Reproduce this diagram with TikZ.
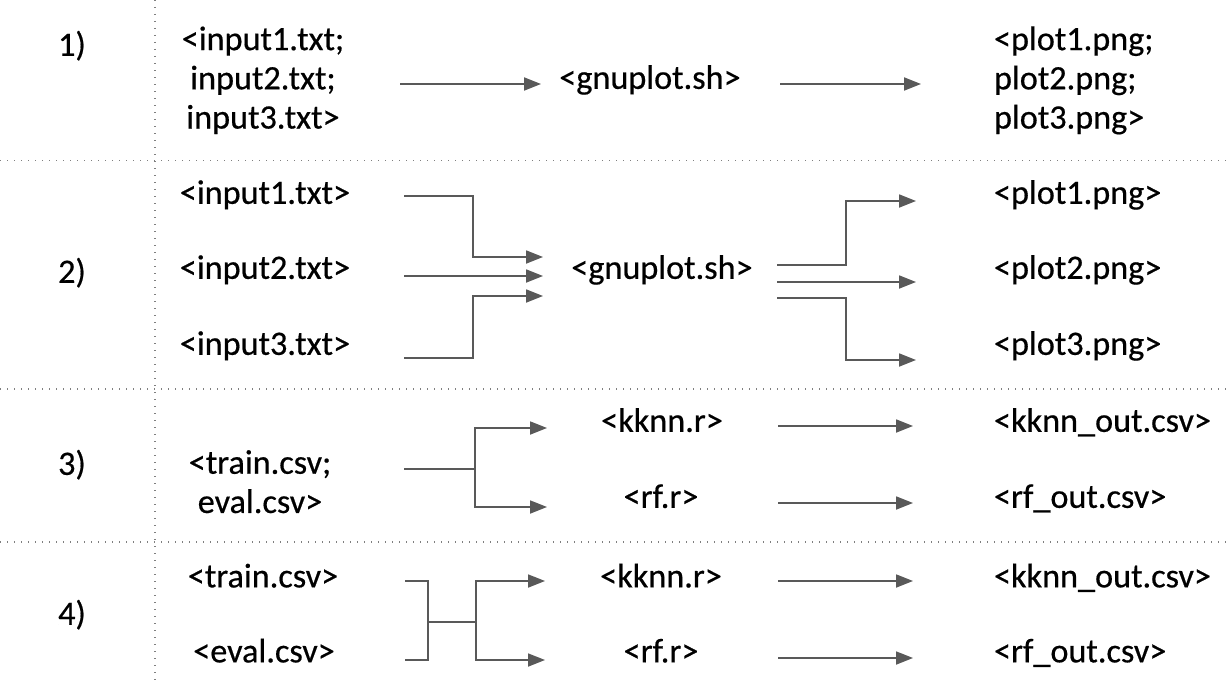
\documentclass[tikz,border=0pt]{standalone}
\usepackage{fontspec}
\setmainfont{Carlito}[FakeBold=0.5]
\usetikzlibrary{arrows.meta}
\definecolor{linegray}{HTML}{595959}
\definecolor{dotgray}{HTML}{7F7F7F}
\tikzset{
  txt/.style={inner sep=0pt, outer sep=0pt, text=black, font=\fontsize{34.2}{39.2}\selectfont},
  conn/.style={draw=linegray, line width=1.8pt},
  arr/.style={conn, -{Triangle[length=17pt,width=13pt]}},
  sep/.style={draw=dotgray, line width=1.4pt, dash pattern=on 1.4pt off 5.6pt}
}
\begin{document}
\begin{tikzpicture}[x=1pt,y=-1pt]
\useasboundingbox (0,0) rectangle (1230,685);
% separators
\coordinate (vt) at (155,0); \coordinate (vb) at (155,685);
\coordinate (h1l) at (0,160.5); \coordinate (h1r) at (1230,160.5);
\coordinate (h2l) at (0,389); \coordinate (h2r) at (1230,389);
\coordinate (h3l) at (0,542); \coordinate (h3r) at (1230,542);
\draw[sep] (vt) -- (vb);
\draw[sep] (h1l) -- (h1r);
\draw[sep] (h2l) -- (h2r);
\draw[sep] (h3l) -- (h3r);

% row labels
\node[txt] (r1) at (72,48) {\strut 1)};
\node[txt] (r2) at (72,275) {\strut 2)};
\node[txt] (r3) at (72,467) {\strut 3)};
\node[txt] (r4) at (72,617) {\strut 4)};

% ---- row 1
\node[txt, align=center] (in1) at (263,81.5) {\strut <input1.txt;\\\strut input2.txt;\\\strut input3.txt>};
\node[txt] (gp1) at (650,81) {\strut <gnuplot.sh>};
\node[txt, align=left, anchor=west] (out1) at (994,81.5) {\strut <plot1.png;\\\strut plot2.png;\\\strut plot3.png>};
\coordinate (a1s) at (400,84); \coordinate (a1e) at (541,84);
\coordinate (b1s) at (780,84); \coordinate (b1e) at (921,84);
\draw[arr] (a1s) -- (a1e);
\draw[arr] (b1s) -- (b1e);

% ---- row 2
\node[txt] (in21) at (265,196) {\strut <input1.txt>};
\node[txt] (in22) at (265,271) {\strut <input2.txt>};
\node[txt] (in23) at (265,347) {\strut <input3.txt>};
\node[txt] (gp2) at (662,271) {\strut <gnuplot.sh>};
\node[txt, anchor=west] (out21) at (994,196) {\strut <plot1.png>};
\node[txt, anchor=west] (out22) at (994,271) {\strut <plot2.png>};
\node[txt, anchor=west] (out23) at (994,347) {\strut <plot3.png>};
\coordinate (c1s) at (404,196); \coordinate (c1e) at (543,257);
\coordinate (c2s) at (404,276); \coordinate (c2e) at (543,276);
\coordinate (c3s) at (404,358); \coordinate (c3e) at (543,296);
\draw[arr] (c1s) -- (473,196) |- (c1e);
\draw[arr] (c2s) -- (c2e);
\draw[arr] (c3s) -- (473,358) |- (c3e);
\coordinate (d1s) at (777,265); \coordinate (d1e) at (916,201);
\coordinate (d2s) at (777,282); \coordinate (d2e) at (916,282);
\coordinate (d3s) at (777,298); \coordinate (d3e) at (916,360);
\draw[arr] (d1s) -- (846,265) |- (d1e);
\draw[arr] (d2s) -- (d2e);
\draw[arr] (d3s) -- (846,298) |- (d3e);

% ---- row 3
\node[txt, align=center] (in3) at (260,485.5) {\strut <train.csv;\\\strut eval.csv>};
\node[txt] (kk3) at (662,424) {\strut <kknn.r>};
\node[txt] (rf3) at (661,500) {\strut <rf.r>};
\node[txt, anchor=west] (ok3) at (994,424) {\strut <kknn\_out.csv>};
\node[txt, anchor=west] (or3) at (994,500) {\strut <rf\_out.csv>};
\coordinate (e0) at (404,469); \coordinate (ej) at (475,469);
\coordinate (e1) at (547,428); \coordinate (e2) at (547,507);
\draw[conn] (e0) -- (ej);
\draw[arr] (ej) |- (e1);
\draw[arr] (ej) |- (e2);
\coordinate (f1s) at (778,426); \coordinate (f1e) at (913,426);
\coordinate (f2s) at (778,503); \coordinate (f2e) at (913,503);
\draw[arr] (f1s) -- (f1e);
\draw[arr] (f2s) -- (f2e);

% ---- row 4
\node[txt] (tr4) at (263,579.5) {\strut <train.csv>};
\node[txt] (ev4) at (264,654.5) {\strut <eval.csv>};
\node[txt] (kk4) at (661,579.5) {\strut <kknn.r>};
\node[txt] (rf4) at (661,654.5) {\strut <rf.r>};
\node[txt, anchor=west] (ok4) at (994,579.5) {\strut <kknn\_out.csv>};
\node[txt, anchor=west] (or4) at (994,654.5) {\strut <rf\_out.csv>};
\coordinate (g1) at (405,581); \coordinate (g2) at (405,660);
\coordinate (gm) at (428,622); \coordinate (gj) at (476,622);
\coordinate (h1) at (545,581); \coordinate (h2) at (545,660);
\draw[conn] (g1) -| (gm);
\draw[conn] (g2) -| (gm);
\draw[conn] (gm) -- (gj);
\draw[arr] (gj) |- (h1);
\draw[arr] (gj) |- (h2);
\coordinate (k1s) at (778,581); \coordinate (k1e) at (913,581);
\coordinate (k2s) at (778,658); \coordinate (k2e) at (913,658);
\draw[arr] (k1s) -- (k1e);
\draw[arr] (k2s) -- (k2e);
\end{tikzpicture}
\end{document}
